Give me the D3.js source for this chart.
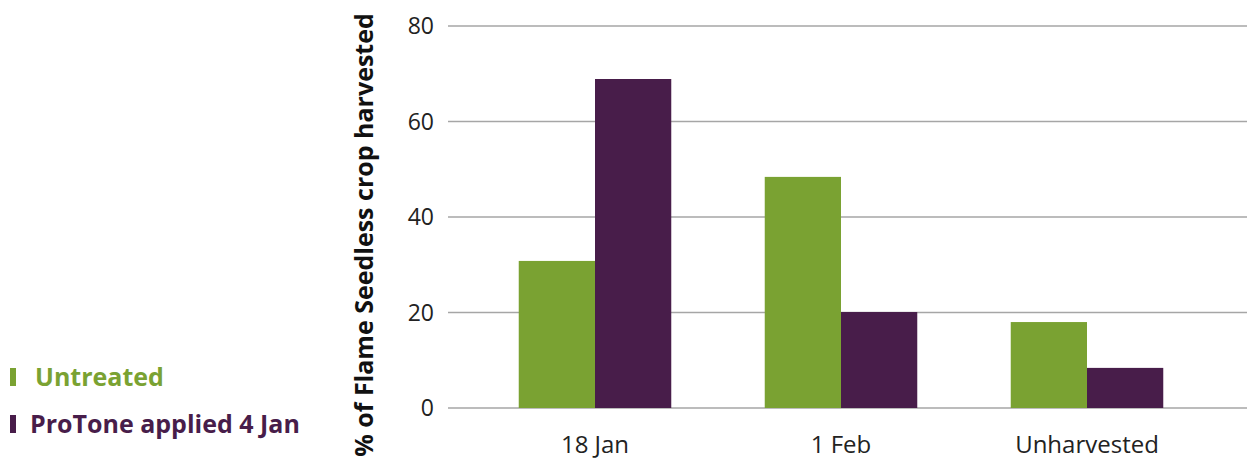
<!DOCTYPE html>
<html lang="en">
<head>
    <meta charset="UTF-8">
    <title>Flame Seedless harvest</title>
    <script src="https://cdnjs.cloudflare.com/ajax/libs/d3/7.8.5/d3.min.js"></script>
    <style>
        body {
            margin: 0;
            padding: 0;
            background: #fff;
            font-family: "Open Sans", "Noto Sans", sans-serif;
        }
    </style>
</head>
<body>
    <div id="chart"></div>
    <script>
        // chart data
        const categories = ['18 Jan', '1 Feb', 'Unharvested'];
        const seriesNames = ['Untreated', 'ProTone applied 4 Jan'];
        const untreated = [30.8, 48.4, 18.0];
        const protone = [68.9, 20.1, 8.4];
        const yTicks = [0, 20, 40, 60, 80];

        const colors = ['#7aa232', '#481d4a'];
        const width = 1247, height = 461;

        const svg = d3.select('#chart')
            .append('svg')
            .attr('width', width)
            .attr('height', height);

        // scales
        const x = d3.scaleBand()
            .domain(categories)
            .range([472, 1210])
            .paddingInner(0.38)
            .paddingOuter(0.19);

        const xSub = d3.scaleBand()
            .domain(seriesNames)
            .range([0, x.bandwidth()]);

        const y = d3.scaleLinear()
            .domain([0, 80])
            .range([408, 26]);

        // gridlines
        svg.append('g')
            .selectAll('line')
            .data(yTicks)
            .join('line')
            .attr('x1', 448)
            .attr('x2', width)
            .attr('y1', d => y(d))
            .attr('y2', d => y(d))
            .attr('stroke', '#a6a6a6')
            .attr('stroke-width', 1.5);

        // y axis labels
        const yAxis = svg.append('g')
            .attr('transform', 'translate(434,0)')
            .call(d3.axisLeft(y).tickValues(yTicks).tickSize(0).tickPadding(0));
        yAxis.select('.domain').remove();
        yAxis.selectAll('text')
            .attr('font-family', '"Open Sans", sans-serif')
            .attr('font-size', 23)
            .attr('fill', '#222')
            .attr('dy', '0.34em');

        // bars
        const rows = categories.map((c, i) => ({cat: c, vals: [untreated[i], protone[i]]}));
        svg.append('g')
            .selectAll('g')
            .data(rows)
            .join('g')
            .attr('transform', d => `translate(${x(d.cat)},0)`)
            .selectAll('rect')
            .data(d => d.vals.map((v, j) => ({name: seriesNames[j], v: v, j: j})))
            .join('rect')
            .attr('x', d => xSub(d.name))
            .attr('width', xSub.bandwidth())
            .attr('y', d => y(d.v))
            .attr('height', d => y(0) - y(d.v))
            .attr('fill', d => colors[d.j]);

        // x axis labels
        const xAxis = svg.append('g')
            .attr('transform', 'translate(0,436)')
            .call(d3.axisBottom(x).tickSize(0).tickPadding(0));
        xAxis.select('.domain').remove();
        xAxis.selectAll('text')
            .attr('font-family', '"Open Sans", sans-serif')
            .attr('font-size', 24)
            .attr('fill', '#222');

        // y title
        svg.append('text')
            .attr('transform', 'translate(373,235) rotate(-90)')
            .attr('text-anchor', 'middle')
            .attr('font-size', 25)
            .attr('font-weight', 'bold')
            .attr('fill', '#111')
            .text('% of Flame Seedless crop harvested');

        // legend
        const legend = svg.append('g')
            .selectAll('g')
            .data(seriesNames)
            .join('g')
            .attr('transform', (d, i) => `translate(10,${368 + i * 47})`);
        legend.append('rect')
            .attr('width', 6)
            .attr('height', 18)
            .attr('fill', (d, i) => colors[i]);
        legend.append('text')
            .attr('x', (d, i) => i === 0 ? 25 : 20)
            .attr('y', 18)
            .attr('font-size', 25)
            .attr('font-weight', 'bold')
            .attr('fill', (d, i) => colors[i])
            .text(d => d);
    </script>
</body>
</html>
